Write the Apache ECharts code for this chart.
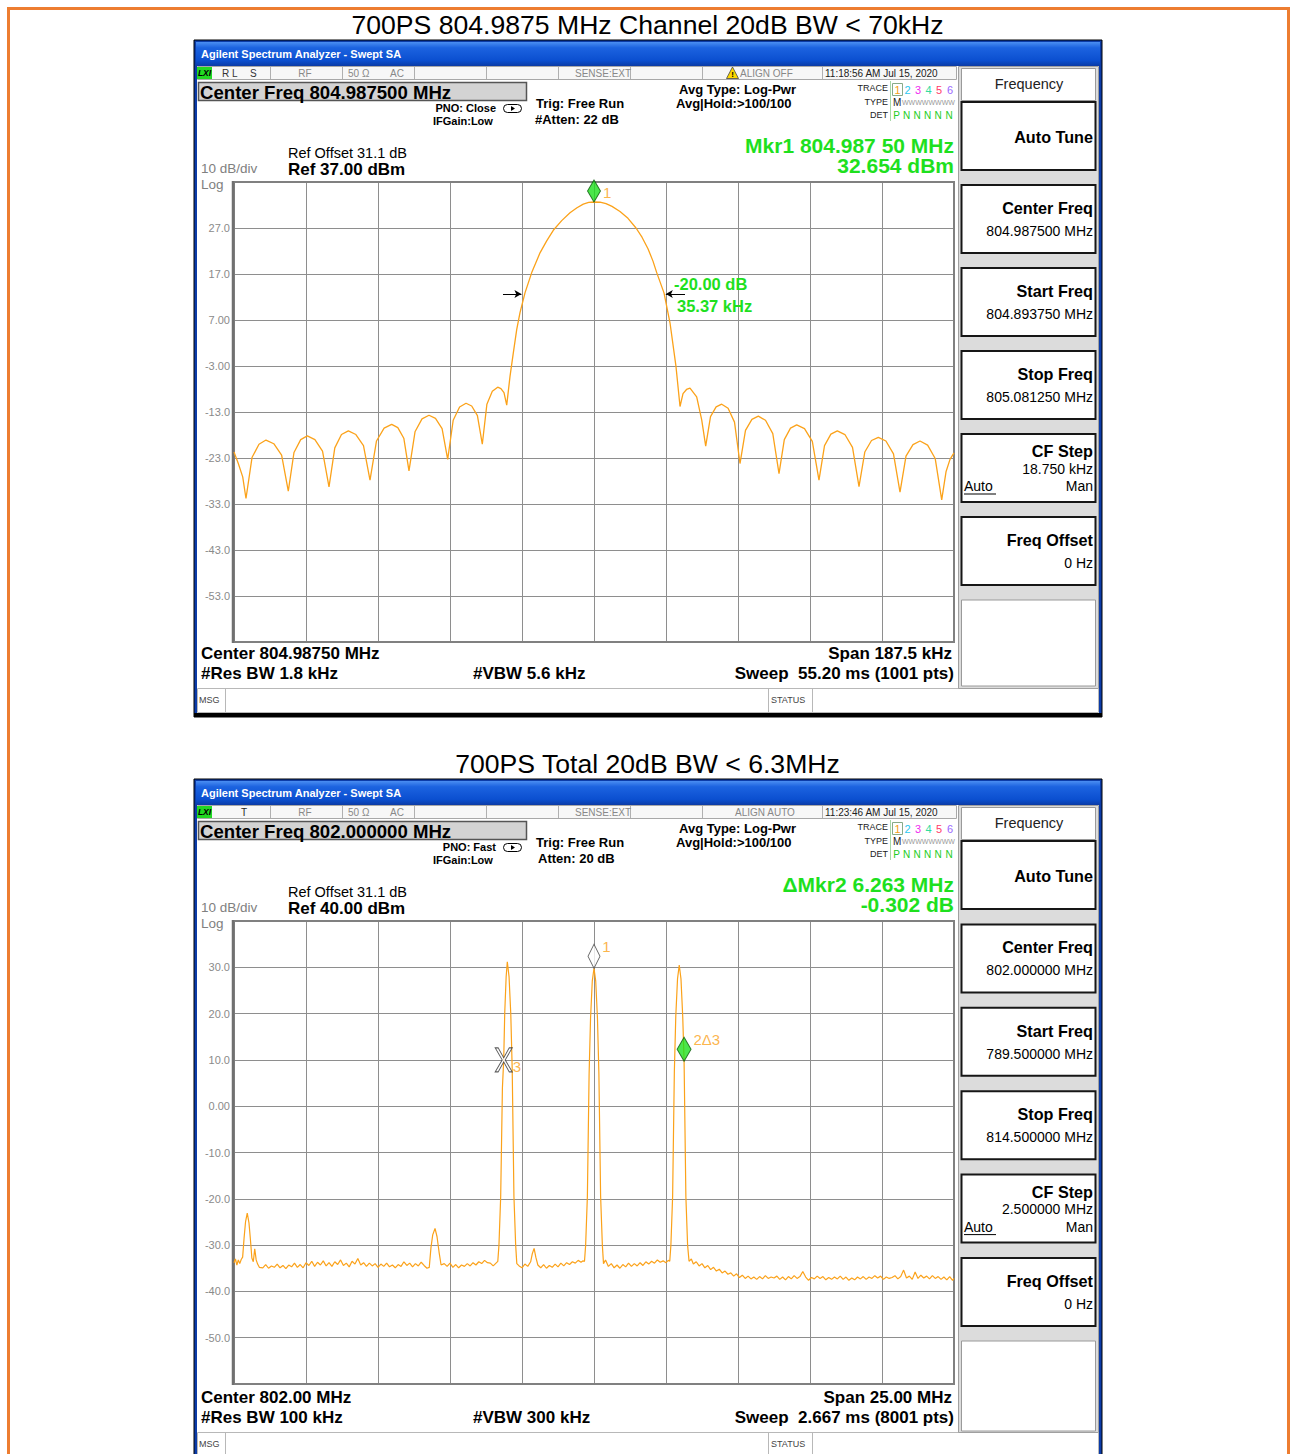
<!DOCTYPE html>
<html><head><meta charset="utf-8">
<script src="https://cdn.jsdelivr.net/npm/echarts@6/dist/echarts.min.js"></script>
<style>html,body{margin:0;padding:0;background:#fff}#c{width:1295px;height:1454px}</style>
</head><body><div id="c"></div>
<script>
// ---------------- DATA ----------------
const pageTitles = ['700PS 804.9875 MHz Channel 20dB BW < 70kHz', '700PS Total 20dB BW < 6.3MHz'];

// Chart 1: offset from 804.98750 MHz (kHz), level (dBm)
const ch1Trace = [[-93.75,-21.7],[-92.63,-24.2],[-91.48,-27.1],[-90.63,-31.8],[-89.06,-22.9],[-87.24,-20.0],[-85.42,-19.1],[-83.39,-19.9],[-81.35,-22.4],[-79.61,-30.2],[-78.13,-21.8],[-76.38,-19.0],[-74.66,-18.2],[-72.68,-19.0],[-70.70,-21.5],[-69.01,-29.3],[-67.50,-20.8],[-65.76,-17.9],[-63.98,-17.1],[-62.01,-17.9],[-60.03,-20.3],[-58.33,-27.8],[-56.64,-19.3],[-54.66,-16.5],[-52.68,-15.7],[-51.09,-16.4],[-49.53,-18.7],[-48.18,-25.8],[-46.61,-17.3],[-44.79,-14.5],[-42.97,-13.7],[-41.28,-14.4],[-39.56,-16.6],[-38.10,-23.3],[-36.67,-14.8],[-35.00,-11.9],[-33.33,-11.1],[-31.85,-11.7],[-30.36,-13.8],[-29.09,-20.0],[-27.89,-11.3],[-26.48,-8.5],[-25.08,-7.6],[-24.24,-7.9],[-23.44,-8.8],[-22.73,-11.5],[-21.88,-5.3],[-21.02,-0.2],[-20.13,4.9],[-19.27,8.6],[-17.97,12.9],[-16.22,17.3],[-14.06,21.6],[-12.32,24.2],[-10.60,26.5],[-8.41,28.6],[-6.25,30.3],[-4.43,31.4],[-2.79,32.2],[-1.38,32.55],[0,32.654],[1.56,32.6],[3.13,32.3],[4.69,31.7],[6.77,30.6],[8.85,29.1],[10.94,27.0],[12.50,25.0],[14.06,22.5],[15.36,19.8],[16.33,17.3],[18.23,12.9],[19.79,6.4],[21.35,-3.1],[22.40,-11.8],[23.18,-9.0],[24.09,-8.1],[25.00,-7.8],[26.74,-9.7],[28.05,-14.7],[29.09,-20.4],[30.34,-14.0],[31.80,-11.9],[33.26,-11.3],[34.92,-12.2],[36.59,-15.2],[38.02,-24.2],[39.45,-17.0],[41.12,-14.6],[42.79,-13.9],[44.66,-14.8],[46.56,-17.7],[48.18,-26.4],[49.56,-19.0],[51.17,-16.5],[52.79,-15.8],[54.82,-16.6],[56.85,-19.4],[58.59,-27.8],[60.03,-20.3],[61.69,-17.8],[63.36,-17.1],[65.34,-17.9],[67.32,-20.7],[69.01,-29.2],[70.52,-21.7],[72.27,-19.2],[74.04,-18.5],[76.02,-19.3],[77.99,-22.1],[79.69,-30.4],[81.25,-22.6],[83.07,-20.1],[84.90,-19.3],[86.88,-20.2],[88.85,-23.1],[90.55,-32.1],[91.67,-26.0],[92.71,-23.3],[93.75,-21.9]];
const ch1YTickValues = [27, 17, 7, -3, -13, -23, -33, -43, -53];
const ch1YTickLabels = ['27.0', '17.0', '7.00', '-3.00', '-13.0', '-23.0', '-33.0', '-43.0', '-53.0'];
const ch1Markers = [{ name: '1', value: [0, 32.654] }];
const ch1NdbLevel = 12.654;
const ch1NdbArrows = [[-23.7, -18.9], [23.7, 18.7]];
const ch1NdbTexts = ['-20.00 dB', '35.37 kHz'];

// Chart 2: offset from 802.00 MHz (MHz), level (dBm)
const ch2Trace = [[-12.50,-33.8],[-12.45,-33.0],[-12.40,-34.3],[-12.35,-33.2],[-12.30,-34.0],[-12.25,-33.1],[-12.20,-32.6],[-12.15,-28.5],[-12.10,-25.0],[-12.04,-23.1],[-11.98,-25.2],[-11.93,-28.8],[-11.88,-32.8],[-11.83,-33.6],[-11.78,-30.8],[-11.73,-33.2],[-11.68,-34.1],[-11.62,-34.8],
[-11.5,-34.9],[-11.4,-34.2],[-11.3,-35.0],[-11.2,-34.5],[-11.1,-34.8],[-11.0,-34.1],[-10.9,-34.9],[-10.8,-34.4],[-10.7,-35.1],[-10.6,-34.3],[-10.5,-34.7],[-10.4,-33.9],[-10.3,-34.8],[-10.2,-34.2],[-10.1,-34.9],[-10.0,-33.8],[-9.9,-34.4],[-9.8,-33.5],[-9.7,-34.6],[-9.6,-33.7],[-9.5,-34.3],[-9.4,-33.4],[-9.3,-34.5],[-9.2,-33.8],[-9.1,-34.6],[-9.0,-33.6],[-8.9,-34.2],[-8.8,-33.2],[-8.7,-34.4],[-8.6,-33.9],[-8.5,-34.7],[-8.4,-33.5],[-8.3,-34.1],[-8.2,-32.9],[-8.1,-34.3],[-8.0,-33.8],[-7.9,-34.6],[-7.8,-33.9],[-7.7,-34.5],[-7.6,-34.0],[-7.5,-34.8],[-7.4,-34.1],[-7.3,-34.6],[-7.2,-33.9],[-7.1,-34.7],[-7.0,-34.3],[-6.9,-34.9],[-6.8,-34.2],[-6.7,-34.6],[-6.6,-33.6],[-6.5,-34.4],[-6.4,-33.9],[-6.3,-34.7],[-6.2,-34.0],[-6.1,-34.5],[-6.0,-33.7],[-5.9,-34.4],[-5.8,-35.0],
[-5.72,-34.8],[-5.66,-30.5],[-5.60,-27.8],[-5.52,-26.4],[-5.45,-28.2],[-5.38,-31.5],[-5.31,-34.3],
[-5.2,-34.0],[-5.1,-34.6],[-5.0,-33.9],[-4.9,-34.8],[-4.8,-34.2],[-4.7,-34.9],[-4.6,-34.3],[-4.5,-34.6],[-4.4,-34.0],[-4.3,-34.5],[-4.2,-33.8],[-4.1,-34.3],[-4.0,-33.6],[-3.9,-34.0],[-3.8,-33.3],[-3.7,-33.8],[-3.6,-33.9],[-3.5,-34.5],
[-3.34,-33.5],[-3.30,-30.0],[-3.24,-19.5],[-3.18,4.0],[-3.135,10.0],[-3.10,20.0],[-3.05,28.0],[-3.01,31.2],[-2.95,28.0],[-2.89,20.0],[-2.84,8.0],[-2.78,-19.5],[-2.72,-30.0],[-2.68,-34.0],
[-2.6,-34.5],[-2.5,-34.9],[-2.4,-34.1],[-2.3,-34.6],[-2.2,-33.6],[-2.14,-31.8],[-2.08,-30.7],[-2.02,-32.6],[-1.95,-34.3],[-1.85,-34.9],[-1.75,-34.2],[-1.65,-35.0],[-1.55,-34.4],[-1.45,-34.8],[-1.35,-34.1],[-1.25,-34.7],[-1.15,-33.9],[-1.05,-34.5],[-0.95,-33.8],[-0.85,-34.2],[-0.75,-33.6],[-0.65,-33.9],[-0.55,-33.3],[-0.45,-33.7],[-0.38,-33.4],
[-0.33,-33.5],[-0.29,-30.0],[-0.23,-19.5],[-0.17,7.0],[-0.12,19.0],[-0.06,27.0],[0,29.8],[0.06,27.0],[0.12,19.0],[0.17,7.0],[0.23,-19.5],[0.29,-30.0],[0.33,-34.0],
[0.40,-33.2],[0.50,-34.6],[0.60,-34.0],[0.70,-34.9],[0.80,-34.3],[0.90,-35.0],[1.00,-34.2],[1.10,-34.7],[1.20,-33.9],[1.30,-34.6],[1.40,-34.0],[1.50,-34.5],[1.60,-33.8],[1.70,-34.4],[1.80,-33.6],[1.90,-34.1],[2.00,-33.5],[2.10,-33.9],[2.20,-33.2],[2.30,-33.7],[2.40,-33.4],[2.50,-33.8],[2.58,-33.3],
[2.63,-33.5],[2.67,-30.0],[2.73,-19.5],[2.79,7.5],[2.84,19.5],[2.90,27.5],[2.96,30.5],[3.02,27.5],[3.08,19.5],[3.128,9.698],[3.19,-19.5],[3.25,-30.0],[3.30,-33.5],
[3.38,-33.0],[3.45,-34.1],[3.55,-33.6],[3.65,-34.5],[3.75,-34.0],[3.85,-34.9],[3.95,-34.4],[4.05,-35.3],[4.15,-34.8],[4.25,-35.6],[4.35,-35.2],[4.45,-36.0],[4.55,-35.6],[4.65,-36.3],[4.75,-36.0],[4.85,-36.7],[4.95,-36.2],[5.05,-37.0],[5.15,-36.5],[5.25,-37.2],[5.35,-36.7],[5.45,-37.3],[5.55,-36.9],[5.65,-37.4],[5.75,-36.8],[5.85,-37.3],[5.95,-36.6],[6.05,-37.2],[6.15,-36.9],[6.25,-37.1],[6.35,-36.7],[6.45,-37.4],[6.55,-36.9],[6.65,-37.5],[6.75,-36.8],[6.85,-37.3],[6.95,-36.6],[7.05,-37.2],[7.15,-36.8],[7.25,-35.7],[7.35,-36.9],[7.45,-37.6],[7.55,-37.0],[7.65,-37.3],[7.75,-36.7],[7.85,-37.2],[7.95,-36.8],[8.05,-37.5],[8.15,-37.0],[8.25,-37.4],[8.35,-36.9],[8.45,-37.3],[8.55,-36.7],[8.65,-37.4],[8.75,-36.9],[8.85,-37.6],[8.95,-37.1],[9.05,-37.5],[9.15,-36.9],[9.25,-37.3],[9.35,-36.8],[9.45,-37.4],[9.55,-36.9],[9.65,-37.2],[9.75,-36.6],[9.85,-37.1],[9.95,-36.7],[10.05,-37.4],[10.15,-36.9],[10.25,-37.2],[10.35,-37.0],[10.45,-36.6],[10.55,-37.3],[10.65,-36.8],[10.75,-35.4],[10.85,-37.1],[10.95,-36.7],[11.05,-37.4],[11.15,-35.8],[11.25,-37.2],[11.35,-36.5],[11.45,-37.1],[11.55,-36.7],[11.65,-37.3],[11.75,-36.6],[11.85,-37.2],[11.95,-36.8],[12.05,-37.4],[12.15,-36.9],[12.25,-37.5],[12.35,-36.8],[12.45,-37.6],[12.50,-37.2]];
const ch2YTickValues = [30, 20, 10, 0, -10, -20, -30, -40, -50];
const ch2YTickLabels = ['30.0', '20.0', '10.0', '0.00', '-10.0', '-20.0', '-30.0', '-40.0', '-50.0'];
const ch2NormalMarkers = [{ name: '1', value: [0, 29.8] }];
const ch2DeltaMarkers = [{ name: '2\u03943', value: [3.128, 9.698] }];
const ch2RefMarkers = [{ name: '3', value: [-3.135, 10.0] }];

// ---------------- STYLE / LAYOUT ----------------
const FONT = '"Liberation Sans", Arial, Helvetica, sans-serif';
const GREEN = '#1ee01e';
const TRACE = '#FBA21A';
const GRIDC = '#8e8e8e';

function T(x, y, text, o) {
  o = o || {};
  return { type: 'text', x: x, y: y, z: o.z || 30, silent: true,
    style: { text: text, fill: o.c || '#000', fontSize: o.s || 12, fontWeight: o.w || 'normal',
      fontStyle: o.it ? 'italic' : 'normal', fontFamily: FONT, align: o.a || 'left', verticalAlign: 'middle' } };
}
function R(x, y, w, h, fill, stroke, lw, z, r) {
  return { type: 'rect', z: z || 1, silent: true, shape: { x: x, y: y, width: w, height: h, r: r || 0 },
    style: { fill: fill || 'none', stroke: stroke || 'none', lineWidth: lw || 0 } };
}
function Ln(x1, y1, x2, y2, stroke, lw, z) {
  return { type: 'line', z: z || 3, silent: true, shape: { x1: x1, y1: y1, x2: x2, y2: y2 },
    style: { stroke: stroke, lineWidth: lw || 1 } };
}
const titleGrad = { type: 'linear', x: 0, y: 0, x2: 0, y2: 1, colorStops: [
  { offset: 0, color: '#4a8ef2' }, { offset: 0.25, color: '#1c63e0' }, { offset: 0.8, color: '#0b4fd0' }, { offset: 1, color: '#0a3fae' }] };

const panels = [
  { dy: 0, db: 0, frameH: 677, contentH: 647, skH: 622, msgY: 688, emptyH: 86, plotTop: 182, plotH: 460, bottomBar: true,
    status: [[222, 'R L', 'left', '#333'], [250, 'S', 'left', '#333'], [305, 'RF', 'center', '#888'], [348, '50 \u03a9', 'left', '#888'], [390, 'AC', 'left', '#888'], [575, 'SENSE:EXT', 'left', '#888'], [740, 'ALIGN OFF', 'left', '#888'], [825, '11:18:56 AM Jul 15, 2020', 'left', '#222']],
    warn: true, cf: 'Center Freq 804.987500 MHz', pno: 'PNO: Close', atten: '#Atten: 22 dB', attenX: 535,
    mkr: ['Mkr1 804.987 50 MHz', '32.654 dBm'], ref: 'Ref 37.00 dBm',
    bottom: ['Center 804.98750 MHz', '#Res BW 1.8 kHz', '#VBW 5.6 kHz', 'Span 187.5 kHz', 'Sweep  55.20 ms (1001 pts)'],
    keys: ['804.987500 MHz', '804.893750 MHz', '805.081250 MHz', '18.750 kHz', '0 Hz'] },
  { dy: 739, db: 744, frameH: 700, contentH: 680, skH: 627, msgY: 1432, emptyH: 90, plotTop: 921, plotH: 463, bottomBar: false,
    status: [[244, 'T', 'center', '#222'], [305, 'RF', 'center', '#888'], [348, '50 \u03a9', 'left', '#888'], [390, 'AC', 'left', '#888'], [575, 'SENSE:EXT', 'left', '#888'], [735, 'ALIGN AUTO', 'left', '#888'], [825, '11:23:46 AM Jul 15, 2020', 'left', '#222']],
    warn: false, cf: 'Center Freq 802.000000 MHz', pno: 'PNO: Fast', atten: 'Atten: 20 dB', attenX: 538,
    mkr: ['\u0394Mkr2 6.263 MHz', '-0.302 dB'], ref: 'Ref 40.00 dBm',
    bottom: ['Center 802.00 MHz', '#Res BW 100 kHz', '#VBW 300 kHz', 'Span 25.00 MHz', 'Sweep  2.667 ms (8001 pts)'],
    keys: ['802.000000 MHz', '789.500000 MHz', '814.500000 MHz', '2.500000 MHz', '0 Hz'] }
];

function panelElements(P) {
  const d = P.dy, b = P.db, E = [];
  E.push(R(194, 40 + d, 908, P.frameH, '#0c3ca8', '#000', 1, 0));
  E.push(R(196, 42 + d, 904, 23, titleGrad, null, 0, 1));
  E.push(T(201, 54 + d, 'Agilent Spectrum Analyzer - Swept SA', { c: '#fff', s: 11, w: 'bold' }));
  E.push(R(197, 66 + d, 902, P.contentH, '#ffffff', null, 0, 1));
  if (P.bottomBar) E.push(R(194, 713 + d, 908, 4, '#000', null, 0, 2));
  // status row
  E.push(R(197.5, 66.5 + d, 759, 13, '#f7f7f7', '#a8a8a8', 1, 2));
  [270, 342, 414, 486, 558, 630, 702, 822].forEach(function (x) { E.push(Ln(x + 0.5, 67 + d, x + 0.5, 79 + d, '#b0b0b0', 1, 3)); });
  E.push(R(197, 67 + d, 15, 12, '#22d822', null, 0, 3));
  E.push(T(204.5, 73 + d, 'LXI', { s: 8.5, w: 'bold', it: true, a: 'center' }));
  P.status.forEach(function (s) { E.push(T(s[0], 73.5 + d, s[1], { s: 10, a: s[2], c: s[3] })); });
  if (P.warn) {
    E.push({ type: 'polygon', z: 4, silent: true, shape: { points: [[732.5, 67 + d], [738.5, 78.5 + d], [726.5, 78.5 + d]] }, style: { fill: '#ffd800', stroke: '#444', lineWidth: 0.8 } });
    E.push(T(732.5, 74.5 + d, '!', { s: 8, w: 'bold', a: 'center' }));
  }
  // center freq box
  E.push(R(198.5, 82.5 + d, 328, 18, '#d3d3d3', '#555', 1.5, 3));
  E.push(T(200, 92 + d, P.cf, { s: 18.6, w: 'bold' }));
  E.push(T(496, 108 + d, P.pno, { s: 11, w: 'bold', a: 'right' }));
  E.push(T(433, 121 + d, 'IFGain:Low', { s: 11, w: 'bold' }));
  E.push(R(503.5, 104.5 + d, 18, 8, null, '#000', 1, 3, 4));
  E.push({ type: 'polygon', z: 4, silent: true, shape: { points: [[511, 106 + d], [515, 108.5 + d], [511, 111 + d]] }, style: { fill: '#000' } });
  E.push(T(536, 103 + d, 'Trig: Free Run', { s: 13, w: 'bold' }));
  E.push(T(P.attenX, 119 + d, P.atten, { s: 13, w: 'bold' }));
  E.push(T(679, 89 + d, 'Avg Type: Log-Pwr', { s: 13, w: 'bold' }));
  E.push(T(676, 103 + d, 'Avg|Hold:>100/100', { s: 13, w: 'bold' }));
  // trace box
  E.push(T(888, 88 + d, 'TRACE', { s: 9, a: 'right', c: '#222' }));
  E.push(T(888, 101.5 + d, 'TYPE', { s: 9, a: 'right', c: '#222' }));
  E.push(T(888, 115 + d, 'DET', { s: 9, a: 'right', c: '#222' }));
  E.push(Ln(890.5, 81 + d, 890.5, 121 + d, '#a8d8a8', 1, 3));
  E.push(R(892.5, 83.5 + d, 10, 12, null, '#88aa88', 1, 3));
  const tc = ['#f5a020', '#2cc8f0', '#f02cf0', '#30dca0', '#ff3a6a', '#9a66ff'];
  [897.5, 907.5, 918, 928.5, 939, 950].forEach(function (x, i) {
    E.push(T(x, 89.5 + d, String(i + 1), { s: 11, a: 'center', c: tc[i] }));
    E.push(T(x - 1, 115.5 + d, i === 0 ? 'P' : 'N', { s: 10, a: 'center', c: '#22cc22' }));
  });
  E.push(T(893, 102 + d, 'M', { s: 10, c: '#222' }));
  E.push(T(902, 102 + d, 'WWWWWWWW', { s: 7, c: '#999' }));
  // marker readout
  E.push(T(954, 145 + d, P.mkr[0], { s: 21, w: 'bold', a: 'right', c: GREEN }));
  E.push(T(954, 165.5 + d, P.mkr[1], { s: 21, w: 'bold', a: 'right', c: GREEN }));
  // ref
  E.push(T(288, 153 + d, 'Ref Offset 31.1 dB', { s: 14.5 }));
  E.push(T(288, 169.5 + d, P.ref, { s: 17, w: 'bold' }));
  E.push(T(201, 168 + d, '10 dB/div', { s: 13.5, c: '#808080' }));
  E.push(T(201, 184 + d, 'Log', { s: 13.5, c: '#808080' }));
  // plot border
  E.push(R(234, P.plotTop, 720, P.plotH, null, '#808080', 2, 4));
  E.push(Ln(233, P.plotTop - 1, 233, P.plotTop + P.plotH + 1, '#707070', 2.5, 4));
  // bottom annotations
  E.push(T(201, 653.5 + b, P.bottom[0], { s: 17, w: 'bold' }));
  E.push(T(201, 673 + b, P.bottom[1], { s: 17, w: 'bold' }));
  E.push(T(473, 673 + b, P.bottom[2], { s: 17, w: 'bold' }));
  E.push(T(952, 653.5 + b, P.bottom[3], { s: 17, w: 'bold', a: 'right' }));
  E.push(T(954, 673 + b, P.bottom[4], { s: 17, w: 'bold', a: 'right' }));
  // msg row
  const m = P.msgY;
  E.push(R(197.5, m + 0.5, 901, 24, '#fff', '#b8b8b8', 1, 2));
  E.push(Ln(225.5, m + 1, 225.5, m + 24, '#b8b8b8', 1, 3));
  E.push(Ln(768.5, m + 1, 768.5, m + 24, '#b8b8b8', 1, 3));
  E.push(Ln(812.5, m + 1, 812.5, m + 24, '#b8b8b8', 1, 3));
  E.push(T(199, m + 11.5, 'MSG', { s: 9, c: '#444' }));
  E.push(T(771, m + 11.5, 'STATUS', { s: 9, c: '#444' }));
  // softkeys
  E.push(R(958.5, 66.5 + d, 140, P.skH, '#dcdcdc', '#a0a0a0', 1, 2));
  E.push(R(961.5, 68.5 + d, 134, 32, '#fff', '#9a9a9a', 1, 3));
  E.push(T(1029, 83.5 + d, 'Frequency', { s: 14.5, a: 'center', c: '#222' }));
  const tops = [102, 185, 268, 351, 434, 517];
  const kd = function (i) { return d + i * (d ? 0.4 : 0); };
  tops.forEach(function (t, i) { E.push(R(961.5, t + kd(i), 134, 68, '#fff', '#161616', 2, 3)); });
  E.push(T(1093, 137 + kd(0), 'Auto Tune', { s: 16.2, w: 'bold', a: 'right' }));
  const titles = ['Center Freq', 'Start Freq', 'Stop Freq'];
  titles.forEach(function (tt, i) {
    E.push(T(1093, tops[i + 1] + 23 + kd(i + 1), tt, { s: 16.2, w: 'bold', a: 'right' }));
    E.push(T(1093, tops[i + 1] + 46 + kd(i + 1), P.keys[i], { s: 14, a: 'right' }));
  });
  E.push(T(1093, 451 + kd(4), 'CF Step', { s: 16.2, w: 'bold', a: 'right' }));
  E.push(T(1093, 468.5 + kd(4), P.keys[3], { s: 14, a: 'right' }));
  E.push(T(964, 486 + kd(4), 'Auto', { s: 14 }));
  E.push(Ln(964, 494 + kd(4), 996, 494 + kd(4), '#000', 1, 31));
  E.push(T(1093, 486 + kd(4), 'Man', { s: 14, a: 'right' }));
  E.push(T(1093, 540 + kd(5), 'Freq Offset', { s: 16.2, w: 'bold', a: 'right' }));
  E.push(T(1093, 563 + kd(5), P.keys[4], { s: 14, a: 'right' }));
  E.push(R(961.5, 600 + d + (d ? 2 : 0), 134, P.emptyH, '#fff', '#9a9a9a', 1, 3));
  return E;
}

let elements = [];
elements.push(R(8.5, 8.5, 1280, 1470, null, '#ED7D31', 3, 1));
elements.push(T(647.5, 25, pageTitles[0], { s: 26.6, a: 'center' }));
elements.push(T(647.5, 764, pageTitles[1], { s: 26.6, a: 'center' }));
panels.forEach(function (P) { elements = elements.concat(panelElements(P)); });
elements.push(T(674, 283.5, ch1NdbTexts[0], { s: 16.5, w: 'bold', c: GREEN, z: 40 }));
elements.push(T(677, 305.5, ch1NdbTexts[1], { s: 16.5, w: 'bold', c: GREEN, z: 40 }));

function fmt(values, labels) {
  return function (v) {
    for (let i = 0; i < values.length; i++) if (Math.abs(values[i] - v) < 1e-6) return labels[i];
    return '';
  };
}
const xBase = { type: 'value', z: 2, axisLabel: { show: false }, axisTick: { show: false }, axisLine: { show: false },
  splitLine: { show: true, lineStyle: { color: GRIDC, width: 1 } } };
function yAxis(idx, min, max, vals, labs) {
  return { gridIndex: idx, type: 'value', z: 2, min: min, max: max, interval: 10,
    axisLine: { show: false }, axisTick: { show: false },
    splitLine: { show: true, lineStyle: { color: GRIDC, width: 1 } },
    axisLabel: { show: true, color: '#8a8a8a', fontSize: 11, fontFamily: FONT, margin: 4,
      showMinLabel: false, showMaxLabel: false, formatter: fmt(vals, labs) } };
}
const Xsym = 'path://M0,0 L3,0 L8.5,10 L14,0 L17,0 L10,12 L17,24 L14,24 L8.5,14 L3,24 L0,24 L7,12 Z';

const option = {
  animation: false,
  backgroundColor: '#ffffff',
  graphic: { elements: elements },
  grid: [
    { left: 234, top: 182, width: 720, height: 460, show: false },
    { left: 234, top: 921, width: 720, height: 463, show: false }
  ],
  xAxis: [
    Object.assign({}, xBase, { gridIndex: 0, min: -93.75, max: 93.75, interval: 18.75 }),
    Object.assign({}, xBase, { gridIndex: 1, min: -12.5, max: 12.5, interval: 2.5 })
  ],
  yAxis: [
    yAxis(0, -63, 37, ch1YTickValues, ch1YTickLabels),
    yAxis(1, -60, 40, ch2YTickValues, ch2YTickLabels)
  ],
  series: [
    { type: 'line', xAxisIndex: 0, yAxisIndex: 0, data: ch1Trace, symbol: 'none', z: 5, clip: true,
      lineStyle: { color: TRACE, width: 1.3 }, silent: true,
      markLine: { silent: true, symbol: ['none', 'arrow'], symbolSize: [6, 7], animation: false,
        lineStyle: { color: '#000', width: 1, type: 'solid' }, label: { show: false },
        data: ch1NdbArrows.map(function (a) { return [{ coord: [a[0], ch1NdbLevel] }, { coord: [a[1], ch1NdbLevel] }]; }) } },
    { type: 'scatter', xAxisIndex: 0, yAxisIndex: 0, data: ch1Markers, symbol: 'diamond', symbolSize: [13, 22], symbolOffset: [0, -11], z: 8, silent: true,
      itemStyle: { color: GREEN, borderColor: '#0a5a0a', borderWidth: 1 },
      label: { show: true, formatter: '{b}', position: 'right', distance: 2, offset: [0, 2], color: TRACE, fontSize: 15, fontFamily: FONT } },
    { type: 'line', xAxisIndex: 1, yAxisIndex: 1, data: ch2Trace, symbol: 'none', z: 5, clip: true,
      lineStyle: { color: TRACE, width: 1.2 }, silent: true },
    { type: 'scatter', xAxisIndex: 1, yAxisIndex: 1, data: ch2NormalMarkers, symbol: 'diamond', symbolSize: [12, 24], symbolOffset: [0, -12], z: 8, silent: true,
      itemStyle: { color: '#ffffff', borderColor: '#444', borderWidth: 1 },
      label: { show: true, formatter: '{b}', position: 'right', distance: 2, offset: [0, -10], color: TRACE, fontSize: 15, fontFamily: FONT } },
    { type: 'scatter', xAxisIndex: 1, yAxisIndex: 1, data: ch2DeltaMarkers, symbol: 'diamond', symbolSize: [14, 24], symbolOffset: [0, -12], z: 8, silent: true,
      itemStyle: { color: GREEN, borderColor: '#0a5a0a', borderWidth: 1 },
      label: { show: true, formatter: '{b}', position: 'right', distance: 2, offset: [0, -10], color: TRACE, fontSize: 15, fontFamily: FONT } },
    { type: 'scatter', xAxisIndex: 1, yAxisIndex: 1, data: ch2RefMarkers, symbol: Xsym, symbolSize: [17, 24], z: 8, silent: true,
      itemStyle: { color: '#ffffff', borderColor: '#333', borderWidth: 1 },
      label: { show: true, formatter: '{b}', position: 'right', distance: 0, offset: [0, 7], color: TRACE, fontSize: 15, fontFamily: FONT } }
  ]
};
const chart = echarts.init(document.getElementById('c'), null, { renderer: 'svg', width: 1295, height: 1454 });
chart.setOption(option);
</script>
</body></html>
